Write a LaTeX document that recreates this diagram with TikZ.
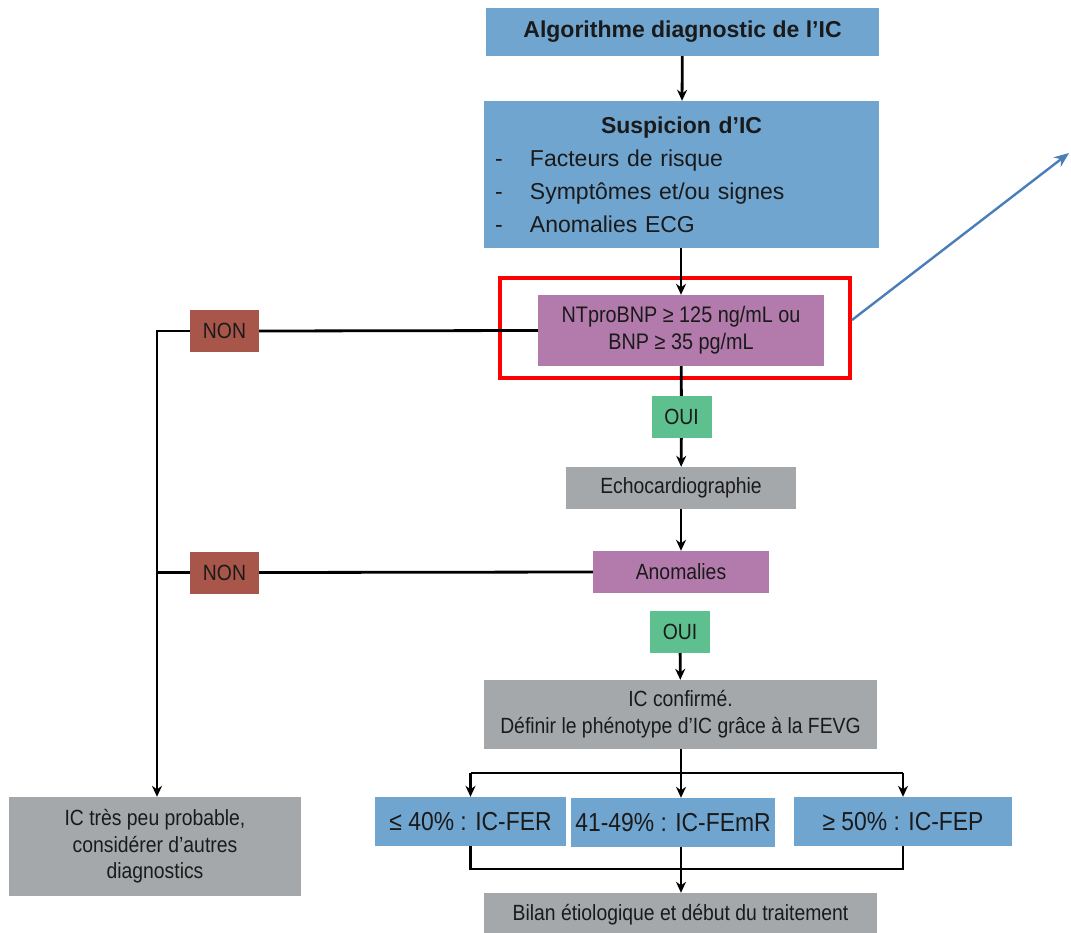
\documentclass[tikz,border=0pt]{standalone}
\usepackage{fontspec}
\setmainfont{Liberation Sans}
\newfontfamily\narrowfont[FakeStretch=0.88]{Liberation Sans}
\usetikzlibrary{arrows.meta}
\definecolor{boxblue}{HTML}{70A5D0}
\definecolor{boxpurple}{HTML}{B27BAC}
\definecolor{boxred}{HTML}{A8564A}
\definecolor{boxgreen}{HTML}{5EBF8F}
\definecolor{boxgrey}{HTML}{A5A8AB}
\definecolor{linkblue}{HTML}{4A7EBB}
\definecolor{ink}{HTML}{1A1A1A}
\tikzset{
  box/.style={rectangle, inner sep=0pt, text=ink, align=center},
  bluebox/.style={box, fill=boxblue},
  purplebox/.style={box, fill=boxpurple},
  greybox/.style={box, fill=boxgrey},
  label text/.style={font=\narrowfont\fontsize{22}{27}\selectfont},
  nonbox/.style={box, fill=boxred, minimum width=69pt, minimum height=42pt,
    label text},
  ouibox/.style={box, fill=boxgreen, minimum width=60pt, minimum height=42pt,
    label text},
  link/.style={draw=black, line width=2.8pt},
  arr/.style={link, -{Stealth[length=11pt,width=10pt]}},
  highlight/.style={draw=red, line width=4pt, inner sep=0pt},
}
\newcommand{\listdash}{\makebox[35pt][l]{-}}
\begin{document}
\begin{tikzpicture}[x=1pt,y=-1pt]
\clip (0,0) rectangle (1071,933);
\fill[white] (0,0) rectangle (1071,933);

% main column
\node[bluebox, minimum width=393pt, minimum height=48pt,
  font=\bfseries\fontsize{23}{27}\selectfont] (title) at (682.5,32)
  {Algorithme diagnostic de l’IC};
\node[bluebox, minimum width=395pt, minimum height=147pt, text width=373pt,
  align=left, font=\fontsize{23}{33}\selectfont] (susp) at (681.5,174.5)
  {\makebox[373pt][c]{\bfseries Suspicion d’IC}\\
   \listdash Facteurs de risque\\
   \listdash Symptômes et/ou signes\\
   \listdash Anomalies ECG};
\node[purplebox, minimum width=286pt, minimum height=71pt,
  font=\narrowfont\fontsize{22.5}{27}\selectfont] (bnp) at (681,330.5)
  {NTproBNP ≥ 125 ng/mL ou\\BNP ≥ 35 pg/mL};
\node[highlight, minimum width=350pt, minimum height=100pt] (frame) at (675,328) {};
\node[ouibox] (oui1) at (681.5,417) {OUI};
\node[greybox, minimum width=230pt, minimum height=42pt, label text] (echo)
  at (681,488) {Echocardiographie};
\node[purplebox, minimum width=176pt, minimum height=42pt, label text] (anom)
  at (681,572) {Anomalies};
\node[ouibox] (oui2) at (680,632) {OUI};
\node[greybox, minimum width=393pt, minimum height=69pt, label text] (conf)
  at (680.5,714.5) {IC confirmé.\\Définir le phénotype d’IC grâce à la FEVG};
\node[bluebox, minimum width=191pt, minimum height=49pt,
  font=\narrowfont\fontsize{26}{30}\selectfont] (fer) at (470.5,821.5)
  {≤ 40\% : IC-FER};
\node[bluebox, minimum width=204pt, minimum height=49pt,
  font=\narrowfont\fontsize{26}{30}\selectfont] (femr) at (673,822.5)
  {41-49\% : IC-FEmR};
\node[bluebox, minimum width=218pt, minimum height=49pt,
  font=\narrowfont\fontsize{26}{30}\selectfont] (fep) at (903,821.5)
  {≥ 50\% : IC-FEP};
\node[greybox, minimum width=393pt, minimum height=44pt, label text] (bilan)
  at (680.5,915) {Bilan étiologique et début du traitement};

% left branch
\node[nonbox] (non1) at (224.5,331) {NON};
\node[nonbox] (non2) at (224.5,572.5) {NON};
\node[greybox, minimum width=292pt, minimum height=99pt,
  font=\narrowfont\fontsize{22}{26.5}\selectfont] (unlikely) at (155,846.5)
  {IC très peu probable,\\considérer d’autres\\diagnostics};

\coordinate (lcorner) at (157,331);
\coordinate (ljoin) at (157,572.5);
\coordinate (split) at (681,773);
\coordinate (merge) at (681,869);
\coordinate (farlink) at (1069,153);

% connectors
\draw[arr] (title) -- (susp);
\draw[arr] (susp.south -| bnp) -- (bnp.north);
\draw[link] (bnp) -- (oui1);
\draw[arr] (oui1) -- (echo);
\draw[arr] (echo) -- (anom);
\draw[arr] (oui2) -- (conf);

\draw[link] (bnp.west) -- (non1.east);
\draw[link] (anom.west) -- (non2.east);
\draw[link] (non2.west) -- (ljoin);
\draw[arr] (non1.west) -- (lcorner) -- (lcorner |- unlikely.north);

\draw[link] (conf.south -| split) -- (split);
\draw[link] (split -| fer) -- (split -| fep);
\draw[arr] (split -| fer) -- (fer.north);
\draw[arr] (split) -- (femr.north -| split);
\draw[arr] (split -| fep) -- (fep.north);

\draw[link] (fer.south) -- (merge -| fer) -- (merge -| fep) -- (fep.south);
\draw[link] (femr.south -| merge) -- (merge);
\draw[arr] (merge) -- (bilan.north -| merge);

\draw[linkblue, line width=2.4pt, -{Stealth[length=15pt,width=12pt]}]
  (frame.east |- 0,320) -- (farlink);
\end{tikzpicture}
\end{document}
